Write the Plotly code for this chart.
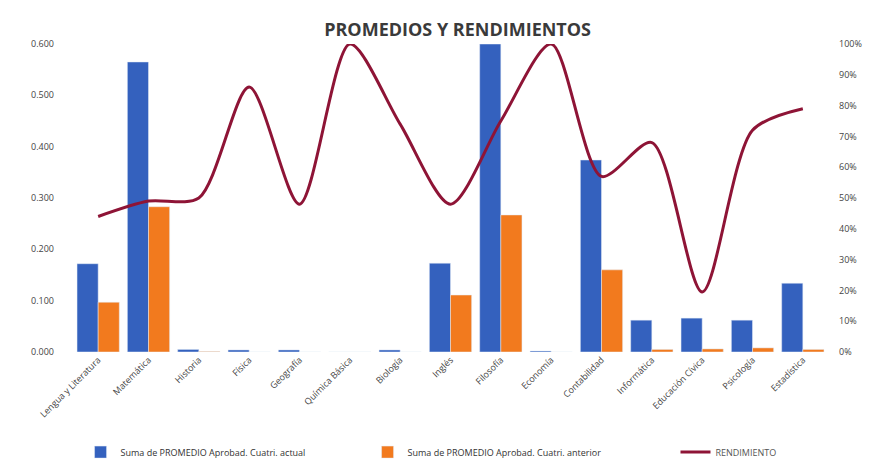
import plotly.graph_objects as go

categories = [
    "Lengua y Literatura", "Matemática", "Historia", "Física", "Geografía",
    "Química Básica", "Biología", "Inglés", "Filosofía", "Economía",
    "Contabilidad", "Informática", "Educación Cívica", "Psicología", "Estadística",
]
promedio_actual = [0.172, 0.565, 0.005, 0.004, 0.004, 0.0, 0.004, 0.173, 0.600,
                   0.002, 0.374, 0.062, 0.066, 0.062, 0.134]
promedio_anterior = [0.097, 0.283, 0.001, 0.0, 0.0, 0.0, 0.0, 0.111, 0.267,
                     0.0, 0.160, 0.005, 0.006, 0.008, 0.005]
rendimiento = [0.44, 0.49, 0.50, 0.86, 0.48, 1.00, 0.74, 0.48, 0.75,
               1.00, 0.57, 0.68, 0.195, 0.72, 0.79]

left_ticks = [0.0, 0.1, 0.2, 0.3, 0.4, 0.5, 0.6]
right_ticks = [0.0, 0.1, 0.2, 0.3, 0.4, 0.5, 0.6, 0.7, 0.8, 0.9, 1.0]

fig = go.Figure()
fig.add_trace(go.Bar(
    x=categories, y=promedio_actual,
    name="Suma de PROMEDIO Aprobad. Cuatri. actual",
    marker=dict(color="#3461BE"), legend="legend",
))
fig.add_trace(go.Bar(
    x=categories, y=promedio_anterior,
    name="Suma de PROMEDIO Aprobad. Cuatri. anterior",
    marker=dict(color="#F27A1E"), legend="legend",
))
fig.add_trace(go.Scatter(
    x=categories, y=rendimiento, yaxis="y2",
    name="RENDIMIENTO",
    mode="lines", legend="legend2",
    line=dict(color="#8E1436", width=3, shape="spline", smoothing=0.8),
))

fig.update_layout(
    width=873, height=462,
    margin=dict(l=65, r=53, t=36, b=118, autoexpand=False),
    paper_bgcolor="white", plot_bgcolor="white",
    font=dict(family="Open Sans, sans-serif", color="#444444", size=9),
    title=dict(
        text="<b>PROMEDIOS Y RENDIMIENTOS</b>",
        x=0.515, xanchor="center", y=0.952, yanchor="middle",
        font=dict(size=18, color="#3a3a3a", family="Open Sans, sans-serif"),
    ),
    barmode="group", bargap=0.16, bargroupgap=0.0,
    xaxis=dict(
        tickangle=-45, showgrid=False, showline=False, ticks="",
        automargin=False,
        tickfont=dict(size=9, color="#444444"),
    ),
    yaxis=dict(
        range=[0, 0.6], tickvals=left_ticks, tickformat=".3f",
        showgrid=False, zeroline=False, showline=False, automargin=False,
        ticklabelstandoff=18,
        tickfont=dict(size=9, color="#444444"),
    ),
    yaxis2=dict(
        range=[0, 1.0], tickvals=right_ticks, tickformat=".0%",
        overlaying="y", side="right", showgrid=False, zeroline=False,
        showline=False, automargin=False, ticklabelstandoff=10,
        tickfont=dict(size=9, color="#444444"),
    ),
    legend=dict(
        orientation="h", x=0.01, xanchor="left", y=-0.325, yanchor="middle",
        entrywidth=242, font=dict(size=9, color="#333333"),
        bgcolor="rgba(0,0,0,0)",
    ),
    legend2=dict(
        orientation="h", x=0.798, xanchor="left", y=-0.325, yanchor="middle",
        font=dict(size=9, color="#555555"),
        bgcolor="rgba(0,0,0,0)",
    ),
    showlegend=True,
)

fig.write_html("out.html")
